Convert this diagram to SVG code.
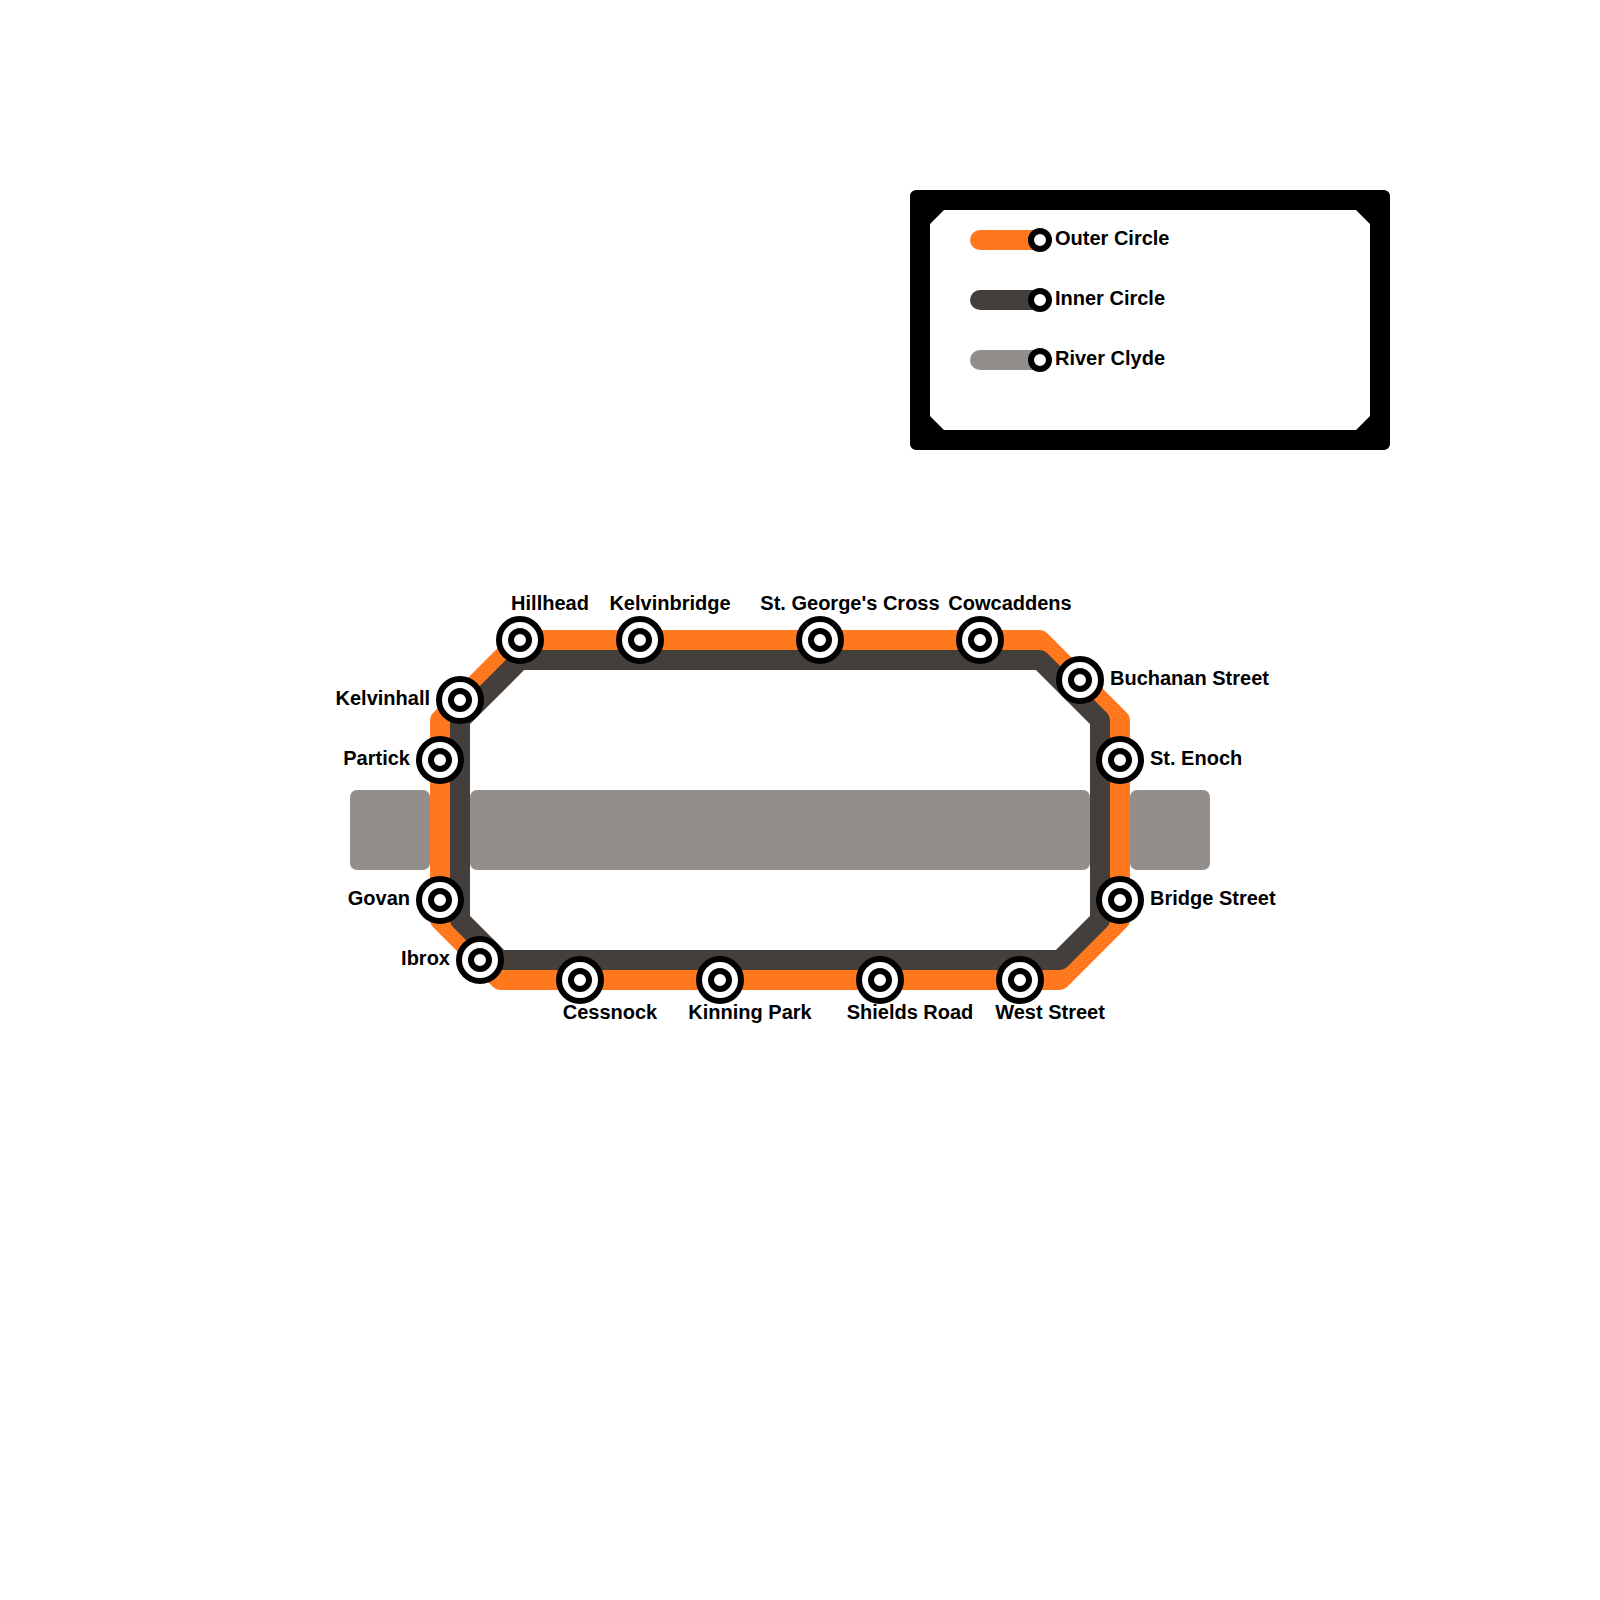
<svg xmlns="http://www.w3.org/2000/svg" width="1600" height="1600" viewBox="0 0 1600 1600">
<style>
.t{font-family:"Liberation Sans",Arial,sans-serif;font-weight:700;font-size:20px;fill:#000;font-kerning:normal;text-rendering:optimizeLegibility}
.m{text-anchor:middle}.e{text-anchor:end}
.river{fill:#938e89}
.line{fill:none;stroke-width:20;stroke-linejoin:round;stroke-linecap:round}
.outer{stroke:#ff781e}.inner{stroke:#453f3b}.rv{stroke:#938e89}
.r{fill:#fff;stroke:#000;stroke-width:6}
</style>
<defs>
<g id="st"><circle class="r" r="21"/><circle class="r" r="9"/></g>
<circle id="lg" class="r" r="9"/>
</defs>
<rect width="1600" height="1600" fill="#fff"/>
<g id="river">
<rect class="river" x="350" y="790" width="80" height="80" rx="7"/>
<rect class="river" x="470" y="790" width="620" height="80" rx="7"/>
<rect class="river" x="1130" y="790" width="80" height="80" rx="7"/>
</g>
<g id="connectors">
<path class="line outer" d="M520 640H1040L1120 720V920L1060 980H500L440 920V720Z"/>
<path class="line inner" d="M520 660H1040L1100 720V920L1060 960H500L460 920V720Z"/>
</g>
<g id="legend">
<path fill-rule="evenodd" d="M916 190H1384A6 6 0 0 1 1390 196V444A6 6 0 0 1 1384 450H916A6 6 0 0 1 910 444V196A6 6 0 0 1 916 190ZM944 210L930 224V416L944 430H1356L1370 416V224L1356 210Z"/>
<path class="line outer" d="M980 240H1040"/>
<path class="line inner" d="M980 300H1040"/>
<path class="line rv" d="M980 360H1040"/>
<use href="#lg" x="1040" y="240"/><use href="#lg" x="1040" y="300"/><use href="#lg" x="1040" y="360"/>
<text class="t" x="1055" y="245">Outer Circle</text>
<text class="t" x="1055" y="305">Inner Circle</text>
<text class="t" x="1055" y="365">River Clyde</text>
</g>
<g id="hillhead"><use href="#st" x="520" y="640"/><text class="t m" x="550" y="610">Hillhead</text></g>
<g id="kelvinbridge"><use href="#st" x="640" y="640"/><text class="t m" x="670" y="610">Kelvinbridge</text></g>
<g id="st-georges-cross"><use href="#st" x="820" y="640"/><text class="t m" x="850" y="610">St. George's Cross</text></g>
<g id="cowcaddens"><use href="#st" x="980" y="640"/><text class="t m" x="1010" y="610">Cowcaddens</text></g>
<g id="buchanan-street"><use href="#st" x="1080" y="680"/><text class="t" x="1110" y="685">Buchanan Street</text></g>
<g id="st-enoch"><use href="#st" x="1120" y="760"/><text class="t" x="1150" y="765">St. Enoch</text></g>
<g id="bridge-street"><use href="#st" x="1120" y="900"/><text class="t" x="1150" y="905">Bridge Street</text></g>
<g id="west-street"><use href="#st" x="1020" y="980"/><text class="t m" x="1050" y="1019">West Street</text></g>
<g id="shields-road"><use href="#st" x="880" y="980"/><text class="t m" x="910" y="1019">Shields Road</text></g>
<g id="kinning-park"><use href="#st" x="720" y="980"/><text class="t m" x="750" y="1019">Kinning Park</text></g>
<g id="cessnock"><use href="#st" x="580" y="980"/><text class="t m" x="610" y="1019">Cessnock</text></g>
<g id="ibrox"><use href="#st" x="480" y="960"/><text class="t e" x="450" y="965">Ibrox</text></g>
<g id="govan"><use href="#st" x="440" y="900"/><text class="t e" x="410" y="905">Govan</text></g>
<g id="partick"><use href="#st" x="440" y="760"/><text class="t e" x="410" y="765">Partick</text></g>
<g id="kelvinhall"><use href="#st" x="460" y="700"/><text class="t e" x="430" y="705">Kelvinhall</text></g>
</svg>
